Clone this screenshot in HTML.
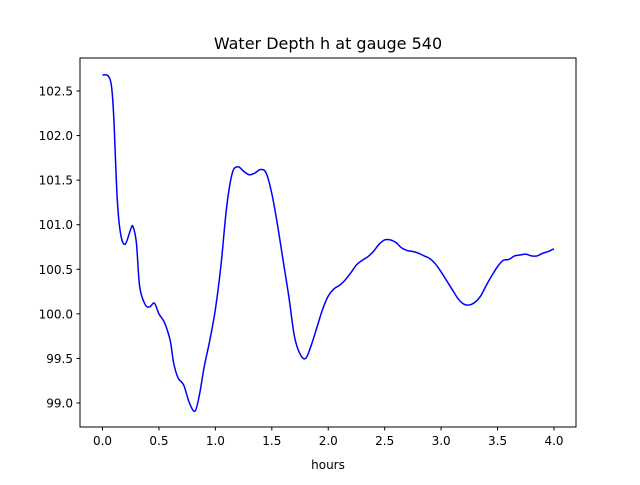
<!DOCTYPE html>
<html><head><meta charset="utf-8"><style>
body{margin:0;background:#fff;font-family:"Liberation Sans","DejaVu Sans",sans-serif}
</style></head><body>
<svg id="chart" width="640" height="480" xmlns="http://www.w3.org/2000/svg" font-family="DejaVu Sans, Liberation Sans, sans-serif">
<rect width="640" height="480" fill="#fff"/>
<text x="328" y="49" font-size="16" text-anchor="middle">Water Depth h at gauge 540</text>
<g id="axes"></g>
<rect x="80" y="58" width="496" height="369" fill="none" stroke="#000" stroke-width="1"/>
<text x="328" y="469" font-size="12" text-anchor="middle">hours</text>
</svg>
<script>
const xVals=[0,0.05,0.08,0.1,0.13,0.16,0.2,0.25,0.27,0.3,0.33,0.38,0.42,0.46,0.5,0.55,0.6,0.63,0.67,0.72,0.77,0.82,0.86,0.9,0.95,1.0,1.05,1.1,1.15,1.2,1.25,1.3,1.35,1.4,1.45,1.5,1.55,1.6,1.65,1.7,1.75,1.8,1.85,1.9,1.95,2.0,2.05,2.1,2.15,2.2,2.25,2.3,2.35,2.4,2.45,2.5,2.55,2.6,2.65,2.7,2.75,2.8,2.85,2.9,2.95,3.0,3.05,3.1,3.15,3.2,3.25,3.3,3.35,3.4,3.45,3.5,3.55,3.6,3.65,3.7,3.75,3.8,3.85,3.9,3.95,4.0];
const depth=[102.68,102.67,102.55,102.2,101.3,100.9,100.78,100.95,100.98,100.8,100.3,100.1,100.08,100.12,100.0,99.9,99.7,99.45,99.28,99.2,99.0,98.91,99.1,99.4,99.7,100.05,100.55,101.2,101.58,101.65,101.6,101.56,101.58,101.62,101.58,101.35,101.0,100.6,100.2,99.75,99.55,99.5,99.65,99.85,100.05,100.2,100.28,100.32,100.38,100.46,100.55,100.6,100.64,100.7,100.78,100.83,100.83,100.8,100.74,100.71,100.7,100.68,100.65,100.62,100.56,100.47,100.37,100.27,100.17,100.11,100.1,100.13,100.2,100.32,100.43,100.53,100.6,100.61,100.65,100.66,100.67,100.65,100.65,100.68,100.7,100.73];
const xTicks=[0,0.5,1,1.5,2,2.5,3,3.5,4];
const xTickLabels=["0.0","0.5","1.0","1.5","2.0","2.5","3.0","3.5","4.0"];
const yTicks=[99,99.5,100,100.5,101,101.5,102,102.5];
const yTickLabels=["99.0","99.5","100.0","100.5","101.0","101.5","102.0","102.5"];
const sx=v=>102.5+v*112.875;
const sy=v=>403-(v-99)*89.14;
const NS="http://www.w3.org/2000/svg";
const g=document.getElementById('axes');
function mk(t,a){const e=document.createElementNS(NS,t);for(const k in a)e.setAttribute(k,a[k]);g.appendChild(e);return e;}
xTicks.forEach((v,i)=>{
 const l=mk('line',{x1:sx(v),x2:sx(v),y1:427,y2:430.5,stroke:'#000'});
 
 
 const t=mk('text',{x:sx(v),y:445,'font-size':12,'text-anchor':'middle'});
 t.textContent=xTickLabels[i];
 
 
});
yTicks.forEach((v,i)=>{
 const l=mk('line',{x1:76.5,x2:80,y1:sy(v),y2:sy(v),stroke:'#000'});
 
 
 const t=mk('text',{x:73,y:sy(v)+4.5,'font-size':12,'text-anchor':'end'});
 t.textContent=yTickLabels[i];
 
 
});
const pts=xVals.map((x,i)=>[sx(x),sy(depth[i])]);
let d='M'+pts[0][0]+','+pts[0][1];
for(let i=0;i<pts.length-1;i++){
 const p0=pts[Math.max(0,i-1)],p1=pts[i],p2=pts[i+1],p3=pts[Math.min(pts.length-1,i+2)];
 const c1=[p1[0]+(p2[0]-p0[0])/6,p1[1]+(p2[1]-p0[1])/6];
 const c2=[p2[0]-(p3[0]-p1[0])/6,p2[1]-(p3[1]-p1[1])/6];
 d+=' C'+c1+' '+c2+' '+p2;
}
const path=mk('path',{d:d,fill:'none',stroke:'#0000ff','stroke-width':1.5});


</script>
</body></html>
